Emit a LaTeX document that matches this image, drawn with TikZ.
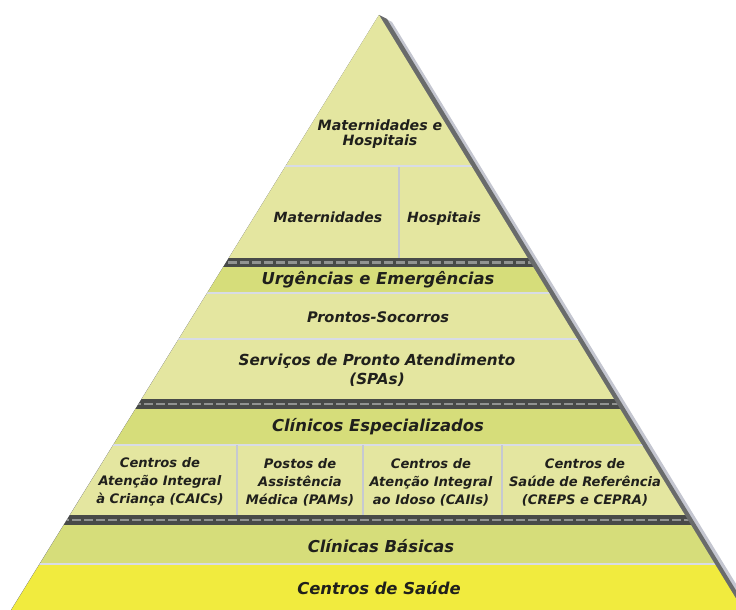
\documentclass[tikz,border=0pt]{standalone}
\usepackage{fontspec}
\setmainfont{DejaVu Sans}
\begin{document}
\begin{tikzpicture}[x=1pt,y=-1pt]
\definecolor{pale}{RGB}{228,230,160}
\definecolor{mid}{RGB}{214,221,122}
\definecolor{basecol}{RGB}{241,235,62}
\definecolor{bandcol}{RGB}{72,74,72}
\definecolor{dashcol}{RGB}{145,147,145}
\definecolor{sepcol}{RGB}{216,220,230}
\definecolor{shdark}{RGB}{105,107,107}
\definecolor{shlight}{RGB}{196,198,208}
\definecolor{ink}{RGB}{32,32,28}
\tikzset{
  txtbig/.style={font=\fontsize{16.4}{19}\selectfont\bfseries\itshape, text=ink, align=center, inner sep=0pt},
  txtmid/.style={font=\fontsize{14.6}{19}\selectfont\bfseries\itshape, text=ink, align=center, inner sep=0pt},
  txtsec/.style={font=\fontsize{14.2}{15}\selectfont\bfseries\itshape, text=ink, align=center, inner sep=0pt},
  txtbox/.style={font=\fontsize{13.1}{18}\selectfont\bfseries\itshape, text=ink, align=center, inner sep=0pt},
  sepline/.style={draw=sepcol, line width=2pt},
  vsep/.style={draw=sepcol!80!gray, line width=2pt},
  darkband/.style={fill=bandcol},
  bandash/.style={draw=dashcol, line width=2.5pt, dash pattern=on 9pt off 3pt}
}
\useasboundingbox (0,0) rectangle (736,610);
% shadow along right edge
\fill[shlight] (379,15) -- (392,22) -- (752,610) -- (11,610) -- cycle;
\fill[shdark] (379,15) -- (387,19) -- (748,610) -- (11,610) -- cycle;
\begin{scope}
\clip (379,15) -- (11.3,610) -- (743,610) -- cycle;
% sections
\fill[pale] (0,0) rectangle (736,258);
\fill[darkband] (0,258) rectangle (736,267);
\draw[bandash] (0,262.5) -- (736,262.5);
\fill[mid] (0,267) rectangle (736,293);
\fill[pale] (0,293) rectangle (736,399);
\fill[darkband] (0,399) rectangle (736,409);
\draw[bandash] (0,404) -- (736,404);
\fill[mid] (0,409) rectangle (736,444);
\fill[pale] (0,444) rectangle (736,515);
\fill[darkband] (0,515) rectangle (736,525);
\draw[bandash] (0,520) -- (736,520);
\fill[mid] (0,525) rectangle (736,563);
\fill[basecol] (0,565) rectangle (736,610);
% separators
\draw[sepline] (0,166) -- (736,166);
\draw[sepline] (0,293) -- (736,293);
\draw[sepline] (0,339) -- (736,339);
\draw[sepline] (0,444.5) -- (736,444.5);
\draw[sepline] (0,564) -- (736,564);
\coordinate (v1t) at (399,167); \coordinate (v1b) at (399,258);
\draw[vsep] (v1t) -- (v1b);
\coordinate (v2t) at (237,445); \coordinate (v2b) at (237,515);
\coordinate (v3t) at (363,445); \coordinate (v3b) at (363,515);
\coordinate (v4t) at (502,445); \coordinate (v4b) at (502,515);
\draw[vsep] (v2t) -- (v2b);
\draw[vsep] (v3t) -- (v3b);
\draw[vsep] (v4t) -- (v4b);
\end{scope}
% texts
\node[txtsec] (mh) at (380,134) {Maternidades e\\Hospitais};
\node[txtmid, anchor=base, font=\fontsize{14}{15}\selectfont\bfseries\itshape] (mat) at (328,222) {Maternidades};
\node[txtmid, anchor=base, font=\fontsize{14}{15}\selectfont\bfseries\itshape] (hos) at (444,222) {Hospitais};
\node[txtbig] (urg) at (378,280) {Urgências e Emergências};
\node[txtmid] (ps) at (378,317) {Prontos-Socorros};
\node[txtmid, font=\fontsize{15.2}{19}\selectfont\bfseries\itshape] (spa) at (377,370) {Serviços de Pronto Atendimento\\(SPAs)};
\node[txtbig] (ce) at (378,427) {Clínicos Especializados};
\node[txtbox] (caic) at (160,482) {Centros de\\Atenção Integral\\à Criança (CAICs)};
\node[txtbox] (pam) at (300,482) {Postos de\\Assistência\\Médica (PAMs)};
\node[txtbox] (caii) at (431,482) {Centros de\\Atenção Integral\\ao Idoso (CAIIs)};
\node[txtbox] (crep) at (585,482) {Centros de\\Saúde de Referência\\(CREPS e CEPRA)};
\node[txtbig] (cb) at (381,546) {Clínicas Básicas};
\node[txtbig] (cs) at (379,588) {Centros de Saúde};
\end{tikzpicture}
\end{document}
